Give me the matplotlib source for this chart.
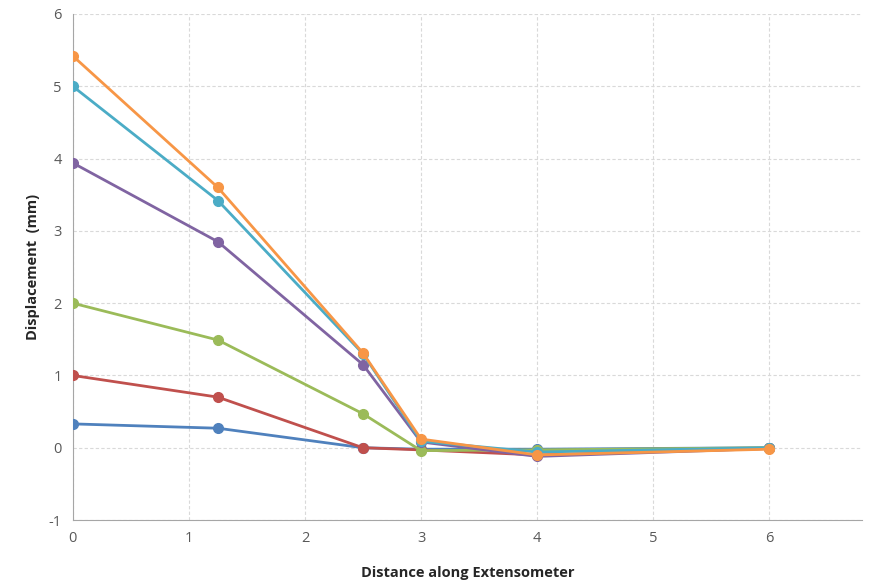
import matplotlib.pyplot as plt

# extensometer anchor positions along the hole
distance = [0, 1.25, 2.5, 3, 4, 6]

# displacement readings (mm) for each reading set
disp_1 = [0.33, 0.27, 0.00, -0.02, -0.02, 0.00]
disp_2 = [1.00, 0.70, 0.00, -0.03, -0.10, -0.01]
disp_3 = [2.00, 1.49, 0.47, -0.04, -0.03, 0.00]
disp_4 = [3.94, 2.85, 1.15, 0.08, -0.12, -0.01]
disp_5 = [5.00, 3.42, 1.30, 0.09, -0.06, 0.00]
disp_6 = [5.42, 3.60, 1.31, 0.12, -0.10, -0.02]

series = [disp_1, disp_2, disp_3, disp_4, disp_5, disp_6]
colors = ['#4F81BD', '#C0504D', '#9BBB59', '#8064A2', '#4BACC6', '#F79646']

plt.rcParams['font.family'] = ['Open Sans', 'DejaVu Sans']
plt.rcParams['axes.unicode_minus'] = False

fig = plt.figure(figsize=(8.77, 5.83), dpi=100)
ax = fig.add_axes([0.083, 0.108, 0.9, 0.868])

for vals, c in zip(series, colors):
    ax.plot(distance, vals, color=c, lw=2, marker='o', ms=7, zorder=3)

ax.set_xlim(0, 6.8)
ax.set_ylim(-1, 6)
ax.set_xticks(range(0, 7))
ax.set_yticks(range(-1, 7))

ax.grid(True, color='#d9d9d9', linestyle=(0, (3, 2)), linewidth=0.8)
for side in ['top', 'right']:
    ax.spines[side].set_visible(False)
for side in ['left', 'bottom']:
    ax.spines[side].set_color('#a6a6a6')
ax.tick_params(length=0, labelsize=10.5, labelcolor='#595959', pad=8)

ax.set_xlabel('Distance along Extensometer', fontsize=10.5, fontweight='bold', color='#262626', labelpad=14)
ax.set_ylabel('Displacement  (mm)', fontsize=10.5, fontweight='bold', color='#262626', labelpad=6)

fig.savefig('out.png', dpi=100)
plt.close(fig)
